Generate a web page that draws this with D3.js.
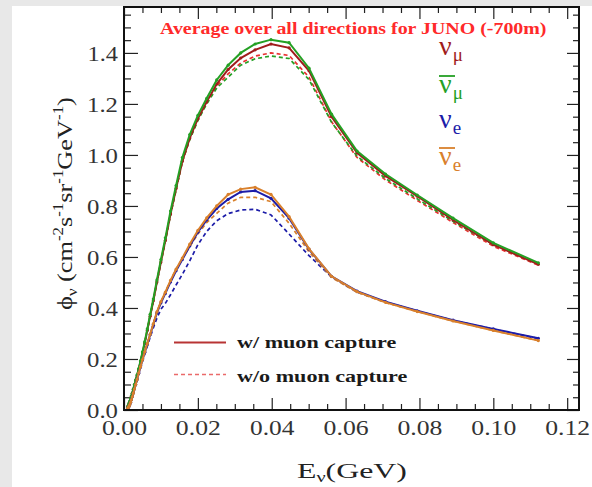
<!DOCTYPE html>
<html><head><meta charset="utf-8">
<script src="https://cdn.jsdelivr.net/npm/d3@7"></script>
<style>
html,body{margin:0;padding:0;background:#fff;}
svg{display:block;}
text{font-family:"Liberation Serif","DejaVu Serif",serif;}
</style></head>
<body>
<script>
// ---------- data ----------
const energies = [
0.00100,0.00112,0.00126,0.00141,0.00158,0.00178,0.00200,0.00224,0.00251,0.00282,
0.00316,0.00355,0.00398,0.00447,0.00501,0.00562,0.00631,0.00708,0.00794,0.00891,
0.0100,0.0112,0.0126,0.0141,0.0158,0.0178,0.0200,0.0224,0.0251,0.0282,
0.0316,0.0355,0.0398,0.0447,0.0501,0.0562,0.0631,0.0708,0.0794,0.0891,
0.1000,0.1122];
const numuWith = [
0.012,0.016,0.021,0.027,0.034,0.044,0.054,0.065,0.080,0.098,
0.116,0.135,0.159,0.189,0.224,0.263,0.312,0.368,0.428,0.502,
0.580,0.665,0.768,0.868,0.975,1.066,1.142,1.208,1.278,1.335,
1.380,1.412,1.435,1.420,1.330,1.150,1.008,0.918,0.838,0.745,
0.648,0.571];
const numuWithout = [
0.012,0.016,0.021,0.027,0.034,0.044,0.054,0.065,0.080,0.098,
0.116,0.135,0.159,0.189,0.224,0.263,0.312,0.368,0.428,0.502,
0.580,0.665,0.768,0.866,0.972,1.062,1.138,1.205,1.270,1.318,
1.360,1.388,1.400,1.390,1.305,1.130,0.990,0.902,0.822,0.735,
0.642,0.568];
const numubarWith = [
0.012,0.016,0.022,0.028,0.035,0.045,0.055,0.066,0.082,0.100,
0.118,0.138,0.162,0.193,0.228,0.268,0.318,0.375,0.435,0.510,
0.590,0.675,0.780,0.880,0.990,1.080,1.155,1.222,1.294,1.352,
1.400,1.435,1.452,1.440,1.340,1.160,1.015,0.925,0.843,0.752,
0.655,0.577];
const numubarWithout = [
0.012,0.016,0.021,0.027,0.034,0.044,0.054,0.065,0.080,0.098,
0.116,0.135,0.159,0.189,0.224,0.263,0.312,0.368,0.428,0.500,
0.578,0.662,0.765,0.862,0.975,1.060,1.135,1.200,1.262,1.305,
1.352,1.377,1.388,1.378,1.295,1.128,0.995,0.908,0.828,0.740,
0.648,0.572];
const nueWith = [
0.006,0.009,0.012,0.016,0.022,0.030,0.040,0.052,0.066,0.082,
0.100,0.120,0.144,0.169,0.197,0.226,0.258,0.295,0.335,0.381,
0.420,0.457,0.502,0.546,0.590,0.643,0.697,0.745,0.790,0.826,
0.855,0.860,0.830,0.752,0.630,0.524,0.466,0.425,0.389,0.352,
0.318,0.281];
const nueWithout = [
0.006,0.009,0.012,0.016,0.021,0.029,0.038,0.050,0.063,0.079,
0.096,0.115,0.138,0.162,0.190,0.218,0.250,0.285,0.322,0.360,
0.395,0.418,0.452,0.490,0.532,0.585,0.648,0.700,0.742,0.770,
0.784,0.787,0.765,0.690,0.605,0.522,0.462,0.423,0.388,0.351,
0.317,0.280];
const nuebarWith = [
0.006,0.009,0.012,0.016,0.022,0.030,0.040,0.052,0.066,0.082,
0.100,0.120,0.145,0.170,0.198,0.228,0.260,0.297,0.338,0.385,
0.425,0.462,0.508,0.552,0.596,0.650,0.704,0.753,0.800,0.845,
0.866,0.873,0.845,0.758,0.632,0.524,0.464,0.422,0.386,0.349,
0.312,0.272];
const nuebarWithout = [
0.006,0.009,0.012,0.016,0.022,0.030,0.040,0.052,0.066,0.082,
0.100,0.120,0.145,0.170,0.198,0.228,0.260,0.297,0.338,0.385,
0.425,0.462,0.508,0.552,0.594,0.640,0.690,0.735,0.771,0.811,
0.834,0.834,0.817,0.732,0.620,0.520,0.462,0.421,0.386,0.349,
0.312,0.272];
const xTicks = [0,0.02,0.04,0.06,0.08,0.10,0.12];
const xTickLabels = ["0.00","0.02","0.04","0.06","0.08","0.10","0.12"];
const yTicks = [0,0.2,0.4,0.6,0.8,1.0,1.2,1.4];
const yTickLabels = ["0.0","0.2","0.4","0.6","0.8","1.0","1.2","1.4"];
const titleText = "Average over all directions for JUNO (-700m)";
const legendWith = "w/ muon capture";
const legendWithout = "w/o muon capture";

// ---------- layout ----------
const W=592,H=487;
const L=124,R=579,T=7,B=410;
const svg=d3.select("body").append("svg").attr("width",W).attr("height",H);
svg.append("rect").attr("width",W).attr("height",H).attr("fill","#e8e8e8");
svg.append("rect").attr("x",12).attr("y",6).attr("width",W-12).attr("height",H-6).attr("fill","#fff");

const x=d3.scaleLinear().domain([0,0.1232]).range([L,R]);
const y=d3.scaleLinear().domain([0,1.580]).range([B,T]);

function fit(textSel, target){
  const w=textSel.node().getBBox().width;
  textSel.attr("transform",`scale(${target/w},1)`);
}

// minor ticks
const xMinor=d3.range(0,0.1231,0.005).filter(v=>Math.abs(v/0.02-Math.round(v/0.02))>1e-6);
const yMinor=d3.range(0,1.58,0.05).filter(v=>Math.abs(v/0.2-Math.round(v/0.2))>1e-6);

function axisGroup(axis, tx, ty){
  const g=svg.append("g").attr("transform",`translate(${tx},${ty})`).call(axis);
  g.select(".domain").remove();
  g.selectAll("line").attr("stroke","#222").attr("stroke-width",1.2);
  return g;
}
axisGroup(d3.axisBottom(x).tickValues(xMinor).tickSize(-6).tickFormat(""),0,B);
axisGroup(d3.axisTop(x).tickValues(xMinor).tickSize(-6).tickFormat(""),0,T);
axisGroup(d3.axisTop(x).tickValues(xTicks).tickSize(-12).tickFormat(""),0,T);
axisGroup(d3.axisLeft(y).tickValues(yMinor).tickSize(-7).tickFormat(""),L,0);
axisGroup(d3.axisRight(y).tickValues(yMinor).tickSize(-6).tickFormat(""),R,0);
axisGroup(d3.axisRight(y).tickValues(yTicks).tickSize(-12).tickFormat(""),R,0);

const gx=axisGroup(d3.axisBottom(x).tickValues(xTicks).tickSize(-12).tickPadding(0)
  .tickFormat((d,i)=>xTickLabels[i]),0,B);
gx.selectAll("text").each(function(){
  const t=d3.select(this);
  t.attr("y",null).attr("dy",null).attr("fill","#333").attr("font-size",21)
   .attr("text-anchor","middle").attr("font-family","Liberation Serif");
  const p=d3.select(this.parentNode);
  const g2=p.append("g").attr("transform","translate(0,25)");
  g2.node().appendChild(this);
  fit(t,45);
});
const gy=axisGroup(d3.axisLeft(y).tickValues(yTicks).tickSize(-14).tickPadding(0)
  .tickFormat((d,i)=>yTickLabels[i]),L,0);
gy.selectAll("text").each(function(){
  const t=d3.select(this);
  t.attr("x",null).attr("dy",null).attr("fill","#333").attr("font-size",21)
   .attr("text-anchor","end").attr("font-family","Liberation Serif");
  const p=d3.select(this.parentNode);
  const g2=p.append("g").attr("transform","translate(-6,7.5)");
  g2.node().appendChild(this);
  fit(t,31);
});

// ---------- curves ----------
const line=d3.line().x(d=>x(d[0])).y(d=>y(d[1]));
const pts=arr=>energies.map((e,i)=>[e,arr[i]]);
const C={numu:"#a01c1c",numuD:"#e83030",numubar:"#24a024",nue:"#1c1ca8",nuebar:"#d9802c"};
const dashed=[[numuWithout,C.numuD],[numubarWithout,C.numubar],[nueWithout,C.nue],[nuebarWithout,C.nuebar]];
const solid=[[numuWith,C.numu],[numubarWith,C.numubar],[nueWith,C.nue],[nuebarWith,C.nuebar]];
dashed.forEach(([a,c])=>{
  svg.append("path").attr("d",line(pts(a))).attr("fill","none").attr("stroke",c)
    .attr("stroke-width",1.7).attr("stroke-dasharray","4,3");
});
solid.forEach(([a,c])=>{
  svg.append("path").attr("d",line(pts(a))).attr("fill","none").attr("stroke",c)
    .attr("stroke-width",2);
  svg.append("g").selectAll("circle").data(pts(a)).join("circle")
    .attr("cx",d=>x(d[0])).attr("cy",d=>y(d[1])).attr("r",1.6).attr("fill",c);
});

// frame
svg.append("rect").attr("x",L).attr("y",T).attr("width",R-L).attr("height",B-T)
  .attr("fill","none").attr("stroke","#111").attr("stroke-width",2);

// ---------- texts ----------
const tt=svg.append("g").attr("transform","translate(160,34)")
  .append("text").attr("font-weight","bold").attr("font-size",16).attr("fill","#ff2a2a").text(titleText);
fit(tt,387);

function nuLabel(xp,yp,color,sub,bar){
  const g=svg.append("g").attr("transform",`translate(${xp},${yp})`);
  const t=g.append("text").attr("fill",color).attr("font-size",28);
  t.append("tspan").text("ν");
  t.append("tspan").attr("font-size",19).attr("dy",6).attr("dx",1).text(sub);
  if(bar) g.append("line").attr("x1",0).attr("x2",16).attr("y1",-17).attr("y2",-17)
    .attr("stroke",color).attr("stroke-width",1.8);
}
nuLabel(439,55,C.numu,"μ",false);
nuLabel(439,93,C.numubar,"μ",true);
nuLabel(439,128,C.nue,"e",false);
nuLabel(439,165,C.nuebar,"e",true);

// legend
svg.append("line").attr("x1",174).attr("x2",226).attr("y1",342.5).attr("y2",342.5)
  .attr("stroke","#b83434").attr("stroke-width",2);
svg.append("line").attr("x1",174).attr("x2",226).attr("y1",374.5).attr("y2",374.5)
  .attr("stroke","#ea6a6a").attr("stroke-width",1.5).attr("stroke-dasharray","4,3");
const l1=svg.append("g").attr("transform","translate(237,348)").append("text")
  .attr("font-weight","bold").attr("font-size",17).attr("fill","#1a1a1a").text(legendWith);
fit(l1,160);
const l2=svg.append("g").attr("transform","translate(237,382)").append("text")
  .attr("font-weight","bold").attr("font-size",17).attr("fill","#1a1a1a").text(legendWithout);
fit(l2,171);

// axis titles
const xt=svg.append("g").attr("transform","translate(297,478)").append("text")
  .attr("font-size",22).attr("fill","#222");
xt.append("tspan").text("E");
xt.append("tspan").attr("font-size",14).attr("dy",4).text("ν");
xt.append("tspan").attr("dy",-4).text("(GeV)");
fit(xt,110);

const yg=svg.append("g").attr("transform","translate(72,310) rotate(-90)");
const yt=yg.append("text").attr("font-size",22).attr("fill","#222");
yt.append("tspan").text("ϕ");
yt.append("tspan").attr("font-size",14).attr("dy",5).text("ν");
yt.append("tspan").attr("dy",-5).text(" (cm");
const sup=(s)=>{yt.append("tspan").attr("font-size",14).attr("dy",-9).text(s);};
const nor=(s)=>{yt.append("tspan").attr("dy",9).text(s);};
sup("-2");nor("s");sup("-1");nor("sr");sup("-1");nor("GeV");sup("-1");nor(")");
fit(yt,213);
</script>
</body></html>
